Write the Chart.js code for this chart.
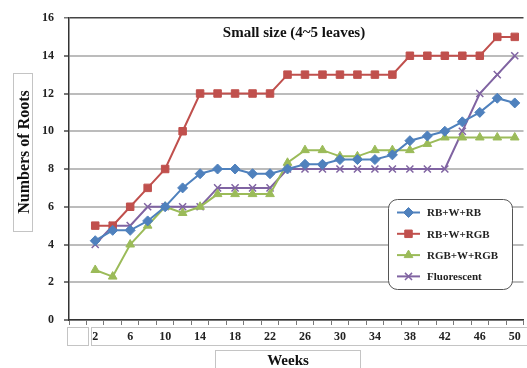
<!DOCTYPE html>
<html>
<head>
<meta charset="utf-8">
<script src="https://cdn.jsdelivr.net/npm/chart.js@4.4.1/dist/chart.umd.min.js"></script>
<style>
  html, body { margin: 0; padding: 0; background: #fff; overflow: hidden; }
  #wrap { width: 530px; height: 368px; position: relative; }
</style>
</head>
<body>
<div id="wrap"><canvas id="myChart"></canvas></div>
<script>
// weeks (first category is the empty column left of "2")
var weeks = ["", "2","4","6","8","10","12","14","16","18","20","22","24","26","28","30","32","34","36","38","40","42","44","46","48","50"];
var yTicks = [0, 2, 4, 6, 8, 10, 12, 14, 16];

var rbWRb   = [null, 4.2, 4.75, 4.75, 5.25, 6.0, 7.0, 7.75, 8.0, 8.0, 7.75, 7.75, 8.0, 8.25, 8.25, 8.5, 8.5, 8.5, 8.75, 9.5, 9.75, 10.0, 10.5, 11.0, 11.75, 11.5];
var rbWRgb  = [null, 5, 5, 6, 7, 8, 10, 12, 12, 12, 12, 12, 13, 13, 13, 13, 13, 13, 13, 14, 14, 14, 14, 14, 15, 15];
var rgbWRgb = [null, 2.65, 2.3, 4.0, 5.0, 6.0, 5.67, 6.0, 6.67, 6.67, 6.67, 6.67, 8.33, 9.0, 9.0, 8.67, 8.67, 9.0, 9.0, 9.0, 9.33, 9.67, 9.67, 9.67, 9.67, 9.67];
var fluor   = [null, 4, 5, 5, 6, 6, 6, 6, 7, 7, 7, 7, 8, 8, 8, 8, 8, 8, 8, 8, 8, 8, 10, 12, 13, 14];

Chart.defaults.font.family = "'Liberation Serif', 'Times New Roman', serif";
Chart.defaults.color = "#222";

function ds(label, data, color, style, radius) {
  return {
    label: label,
    data: data,
    borderColor: color,
    backgroundColor: color,
    pointBackgroundColor: color,
    pointBorderColor: color,
    pointStyle: style,
    pointRadius: radius,
    pointBorderWidth: style === "crossRot" ? 1.5 : 1,
    borderWidth: 2,
    tension: 0
  };
}

var data = {
  labels: weeks,
  datasets: [
    ds("RB+W+RB", rbWRb, "#4F81BD", "rectRot", 5),
    ds("RB+W+RGB", rbWRgb, "#C0504D", "rect", 5.3),
    ds("RGB+W+RGB", rgbWRgb, "#9BBB59", "triangle", 5),
    ds("Fluorescent", fluor, "#8064A2", "crossRot", 5)
  ]
};

// boxes, titles and legend, placed from the chart's own area
var deco = {
  id: "deco",
  afterDraw: function(chart) {
    var c = chart.ctx, a = chart.chartArea;
    var bold = function(px) { return "bold " + px + "px 'Liberation Serif', 'Times New Roman', serif"; };
    c.save();

    // label boxes under x axis
    c.strokeStyle = "#c4c4c4";
    c.lineWidth = 1;
    c.strokeRect(67.5, a.bottom + 7.5, 21, 18);
    c.strokeRect(91.5, a.bottom + 7.5, 460, 18);

    // y title
    c.strokeRect(13.5, 73.5, 19, 158);
    c.fillStyle = "#111";
    c.font = bold(16);
    c.textAlign = "center";
    c.textBaseline = "middle";
    c.save();
    c.translate(23.5, 152);
    c.rotate(-Math.PI / 2);
    c.fillText("Numbers of Roots", 0, 1);
    c.restore();

    // x title
    c.strokeRect(215.5, a.bottom + 30.5, 145, 40);
    c.font = bold(15);
    c.fillText("Weeks", 288, a.bottom + 41);

    // chart title
    c.fillText("Small size (4~5 leaves)", 294, 33);

    // legend
    var lx = 388.5, ly = 199.5, lw = 124, lh = 90, r = 9;
    c.beginPath();
    c.moveTo(lx + r, ly);
    c.arcTo(lx + lw, ly, lx + lw, ly + lh, r);
    c.arcTo(lx + lw, ly + lh, lx, ly + lh, r);
    c.arcTo(lx, ly + lh, lx, ly, r);
    c.arcTo(lx, ly, lx + lw, ly, r);
    c.closePath();
    c.fillStyle = "#fff";
    c.fill();
    c.strokeStyle = "#555";
    c.lineWidth = 1;
    c.stroke();

    c.font = bold(11);
    c.textAlign = "left";
    chart.data.datasets.forEach(function(d, i) {
      var y = 212.5 + i * 21.3;
      c.strokeStyle = d.borderColor;
      c.lineWidth = 2;
      c.beginPath();
      c.moveTo(397, y);
      c.lineTo(420, y);
      c.stroke();
      c.fillStyle = d.borderColor;
      c.lineWidth = d.pointBorderWidth;
      Chart.helpers.drawPoint(c, { pointStyle: d.pointStyle, radius: d.pointRadius, borderWidth: d.pointBorderWidth, rotation: 0 }, 408.5, y);
      c.fillStyle = "#222";
      c.fillText(d.label, 427, y + 1);
    });
    c.restore();
  }
};

var ctx = document.getElementById("myChart").getContext("2d");
var myChart = new Chart(ctx, {
  type: "line",
  data: data,
  plugins: [deco],
  options: {
    responsive: true,
    maintainAspectRatio: false,
    animation: false,
    layout: { padding: { top: 18, left: 0, right: 0, bottom: 0 } },
    plugins: { legend: { display: false }, tooltip: { enabled: false } },
    scales: {
      x: {
        type: "category",
        offset: true,
        afterFit: function(s) { s.height = 48; },
        grid: { offset: true, drawOnChartArea: false, drawTicks: true, tickLength: 5, tickColor: "#777", tickWidth: 1 },
        border: { color: "#333", width: 1.5 },
        ticks: {
          autoSkip: false,
          maxRotation: 0,
          padding: 5,
          font: { size: 12, weight: "bold" },
          color: "#222",
          callback: function(v, i) { return i % 2 === 1 ? weeks[i] : ""; }
        }
      },
      y: {
        min: yTicks[0],
        max: yTicks[yTicks.length - 1],
        afterFit: function(s) { s.width = 69; },
        afterBuildTicks: function(s) { s.ticks = yTicks.map(function(v) { return { value: v }; }); },
        grid: {
          color: function(c) { return c.tick && c.tick.value === 16 ? "#444" : "#bcbcbc"; },
          lineWidth: function(c) { return c.tick && c.tick.value === 16 ? 1.5 : 2; },
          tickLength: 5,
          tickColor: "#777"
        },
        border: { color: "#333", width: 1.5 },
        ticks: { padding: 10, font: { size: 12, weight: "bold" }, color: "#222" }
      }
    }
  }
});
</script>
</body>
</html>
